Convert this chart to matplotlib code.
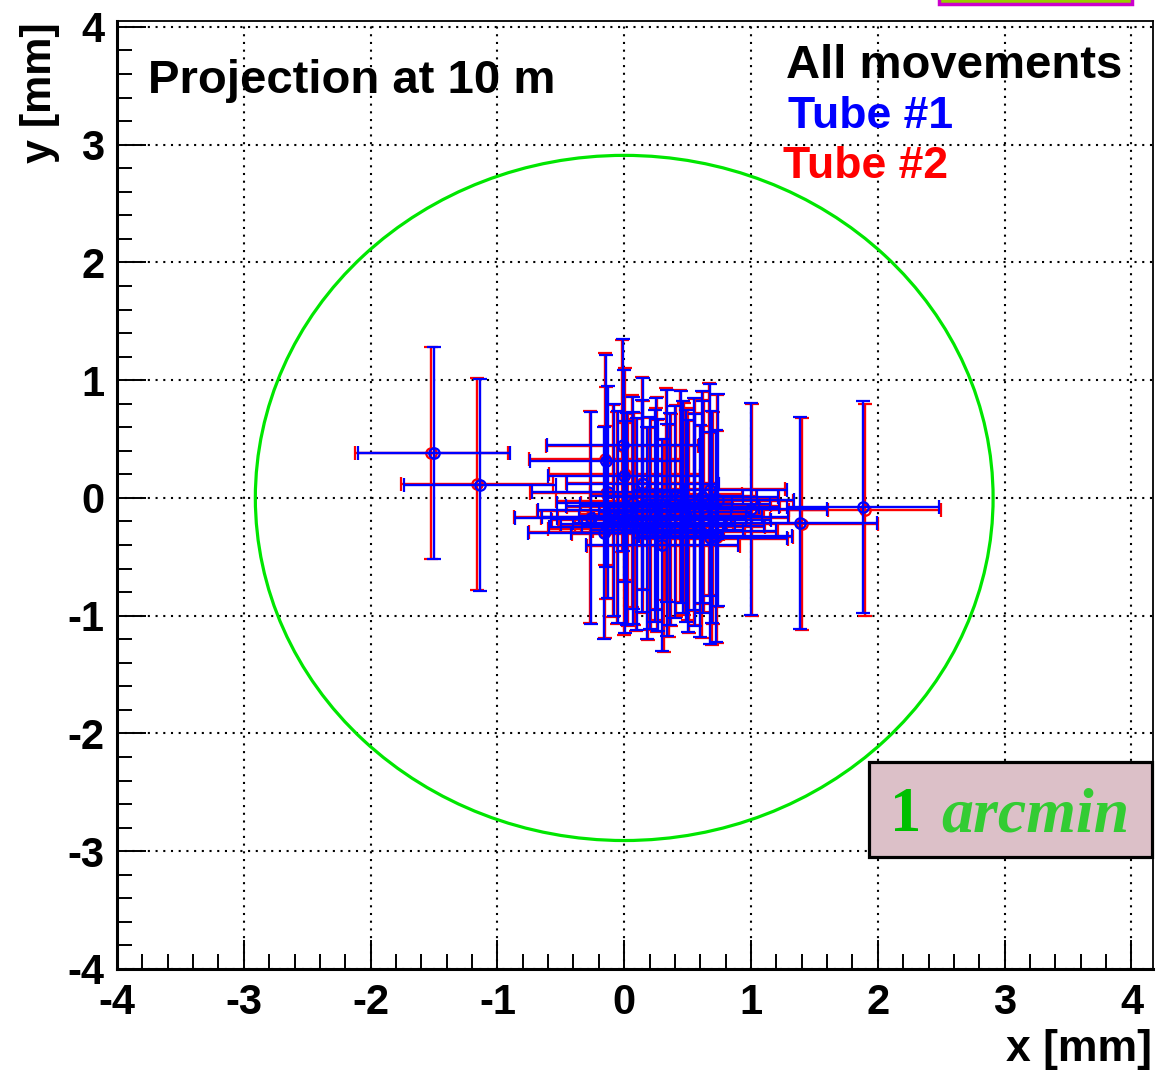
import matplotlib
matplotlib.use('Agg')
import matplotlib.pyplot as plt
from matplotlib.patches import Circle, Rectangle
from matplotlib.ticker import MultipleLocator

# Tube #1 (blue) and Tube #2 (red) projected positions [mm]
x_tube1 = [-1.50, -1.14, -0.26, -0.14, -0.13, -0.16, -0.01, 0.00, -0.05, 0.02,
           0.07, 0.14, 0.15, 0.20, 0.24, 0.27, 0.30, 0.34, 0.36, 0.45,
           0.46, 0.49, 0.50, 0.56, 0.61, 0.62, 0.68, 0.69, 0.74, 0.72,
           0.68, 0.18, 0.07, 0.01, 0.34, 1.00, 1.39, 1.88,
           0.55, 0.40, 0.10, 0.60, 0.25, -0.08]
y_tube1 = [0.38, 0.11, -0.17, 0.31, 0.05, -0.30, 0.45, 0.19, -0.16, -0.18,
           -0.04, -0.07, 0.12, -0.21, -0.15, -0.23, -0.40, 0.02, -0.18, 0.01,
           -0.08, -0.15, -0.24, -0.19, 0.01, -0.08, 0.07, -0.16, -0.02, -0.32,
           -0.34, -0.30, -0.17, -0.25, -0.27, -0.09, -0.21, -0.08,
           -0.05, -0.12, -0.22, -0.28, -0.05, -0.10]
x_tube2 = [-1.52, -1.16, -0.27, -0.15, -0.14, -0.15, -0.02, 0.01, -0.06, 0.03,
           0.06, 0.15, 0.14, 0.21, 0.25, 0.26, 0.31, 0.33, 0.37, 0.44,
           0.47, 0.50, 0.51, 0.55, 0.62, 0.63, 0.67, 0.70, 0.73, 0.73,
           0.69, 0.19, 0.08, 0.00, 0.35, 1.01, 1.40, 1.90,
           0.56, 0.41, 0.09, 0.61, 0.26, -0.09]
y_tube2 = [0.38, 0.12, -0.16, 0.33, 0.04, -0.29, 0.44, 0.20, -0.17, -0.19,
           -0.03, -0.08, 0.13, -0.22, -0.14, -0.24, -0.41, 0.03, -0.19, 0.02,
           -0.09, -0.14, -0.25, -0.18, 0.00, -0.07, 0.08, -0.17, -0.03, -0.33,
           -0.35, -0.31, -0.18, -0.26, -0.28, -0.10, -0.22, -0.10,
           -0.06, -0.11, -0.23, -0.29, -0.04, -0.11]
x_err = 0.6
y_err = 0.9
arcmin_radius = 2.909  # 1 arcmin at 10 m

W, H = 1157, 1074
plt.rcParams['font.family'] = ['Liberation Sans', 'DejaVu Sans']
plt.rcParams['font.weight'] = 'bold'

fig = plt.figure(figsize=(W / 100, H / 100), dpi=100)
ax = fig.add_axes([117 / W, 1 - 969 / H, (1153 - 117) / W, (969 - 21) / H])


def fx(p):
    return p / W


def fy(p):
    return 1 - p / H


ax.set_xlim(-4, 4.17)
ax.set_ylim(-4, 4.05)

ax.xaxis.set_major_locator(MultipleLocator(1))
ax.yaxis.set_major_locator(MultipleLocator(1))
ax.xaxis.set_minor_locator(MultipleLocator(0.2))
ax.yaxis.set_minor_locator(MultipleLocator(0.2))
ax.tick_params(which='both', direction='in', top=False, right=False, width=1.4)
ax.tick_params(which='major', length=21, labelsize=30)
ax.tick_params(axis='x', which='major', pad=10)
ax.tick_params(axis='y', which='major', pad=9)
ax.tick_params(which='minor', length=10.5)
ax.set_xticklabels([str(int(v)) for v in ax.get_xticks()], fontweight='bold')
ax.set_yticklabels([str(int(v)) for v in ax.get_yticks()], fontweight='bold')

ax.grid(True, which='major', color='black', linestyle=(0, (1, 2.7)), linewidth=1.5)
ax.set_axisbelow(True)

for side in ['left', 'bottom']:
    ax.spines[side].set_linewidth(2.2)
for side in ['top', 'right']:
    ax.spines[side].set_linewidth(1.3)

ax.add_patch(Circle((0, 0), arcmin_radius, fill=False, edgecolor='#00e600',
                    linewidth=2.3, zorder=2))

common = dict(fmt='o', markersize=7.5, mfc='none', mew=1.6,
              elinewidth=1.7, capsize=4.7, capthick=1.7)
ax.errorbar(x_tube2, y_tube2, xerr=x_err, yerr=y_err, color='red', mec='red',
            zorder=3, **common)
ax.errorbar(x_tube1, y_tube1, xerr=x_err, yerr=y_err, color='blue', mec='blue',
            zorder=4, **common)

fig.text(fx(148), fy(93), 'Projection at 10 m', fontsize=34, fontweight='bold',
         va='baseline', ha='left')
fig.text(fx(1122), fy(78), 'All movements', fontsize=34, fontweight='bold',
         va='baseline', ha='right')
fig.text(fx(788), fy(128), 'Tube #1', fontsize=32, fontweight='bold',
         color='blue', va='baseline', ha='left')
fig.text(fx(783), fy(178), 'Tube #2', fontsize=32, fontweight='bold',
         color='red', va='baseline', ha='left')

fig.text(fx(40), fy(22), 'y [mm]', fontsize=31, fontweight='bold',
         rotation=90, ha='center', va='top')
fig.text(fx(1152), fy(1049), 'x [mm]', fontsize=32, fontweight='bold',
         ha='right', va='center')

# "1 arcmin" box
box = Rectangle((fx(869), fy(857)), fx(1152) - fx(869), fy(762) - fy(857),
                transform=fig.transFigure, facecolor='#dcc0c8',
                edgecolor='black', linewidth=2.3, zorder=5)
fig.patches.append(box)
fig.text(fx(890), fy(831), '1', fontsize=45, fontweight='bold',
         family=['Liberation Serif'], color='#00c000', ha='left',
         va='baseline', zorder=6)
fig.text(fx(941), fy(831), 'arcmin', fontsize=46, fontweight='bold',
         style='italic', family=['Liberation Serif'], color='#33cc33',
         ha='left', va='baseline', zorder=6)

# clipped stats box at the top edge
stats = Rectangle((fx(939), fy(4)), fx(1132) - fx(939), 0.02,
                  transform=fig.transFigure, facecolor='#99cc00',
                  edgecolor='#cc00cc', linewidth=2.5, zorder=5)
fig.patches.append(stats)

fig.savefig('out.png', dpi=100)
